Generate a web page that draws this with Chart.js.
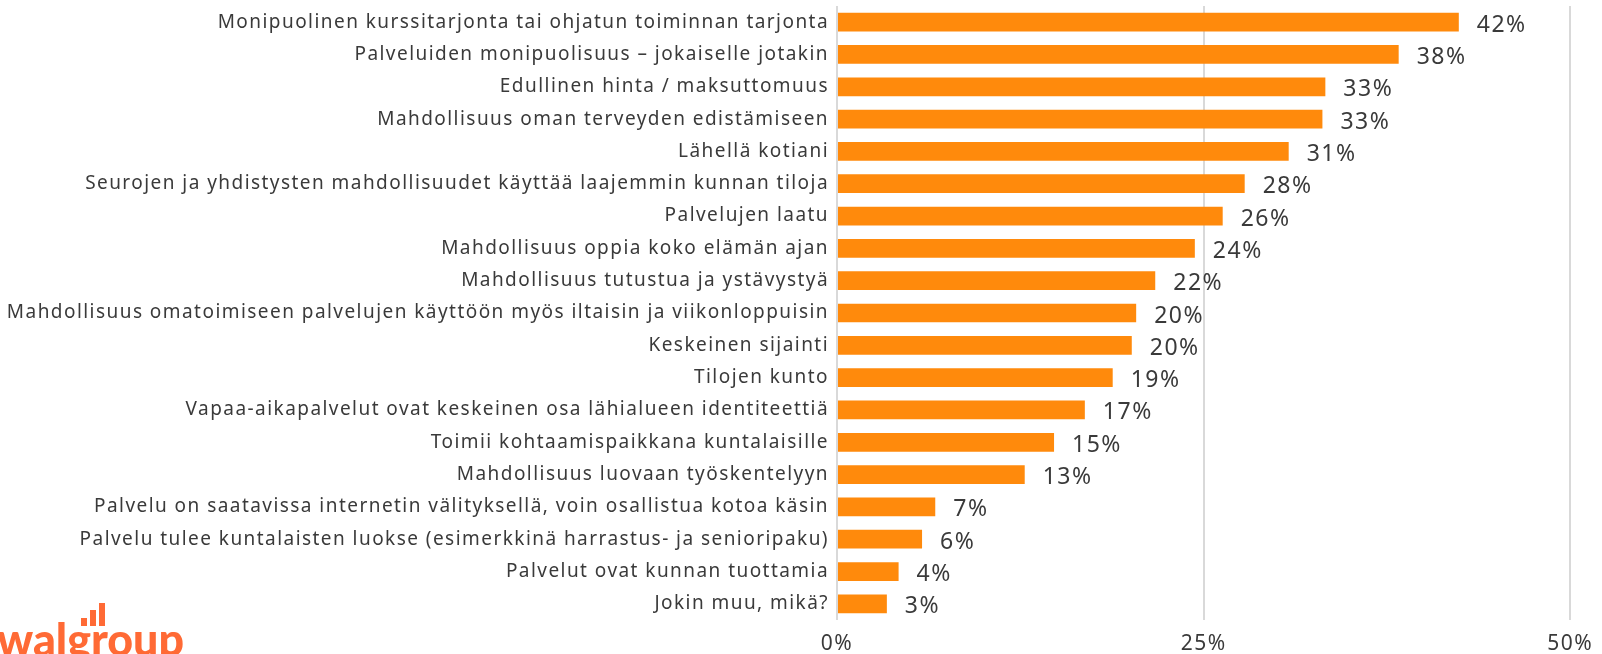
<!DOCTYPE html>
<html>
<head>
<meta charset="utf-8">
<script src="https://cdn.jsdelivr.net/npm/chart.js@4/dist/chart.umd.min.js"></script>
<style>
    html, body { margin: 0; padding: 0; background: #ffffff; }
    #wrap { position: relative; width: 1602px; height: 654px; overflow: hidden; }
    #logo { position: absolute; left: 0; top: 594px; }
</style>
</head>
<body>
<div id="wrap">
    <canvas id="barChart" width="1602" height="654"></canvas>
    <svg id="logo" width="200" height="60">
        <rect x="81" y="24" width="6" height="8" fill="#ff6a35"></rect>
        <rect x="90" y="16" width="6" height="16" fill="#ff6a35"></rect>
        <rect x="99" y="9" width="6" height="23" fill="#ff6a35"></rect>
        <text x="-3" y="62" font-family="Lato" font-weight="900" font-size="46" fill="#ff6a35"
              textLength="187" lengthAdjust="spacingAndGlyphs">walgroup</text>
    </svg>
</div>
<script>
// Données du graphique
const categories = [
    'Monipuolinen kurssitarjonta tai ohjatun toiminnan tarjonta',
    'Palveluiden monipuolisuus – jokaiselle jotakin',
    'Edullinen hinta / maksuttomuus',
    'Mahdollisuus oman terveyden edistämiseen',
    'Lähellä kotiani',
    'Seurojen ja yhdistysten mahdollisuudet käyttää laajemmin kunnan tiloja',
    'Palvelujen laatu',
    'Mahdollisuus oppia koko elämän ajan',
    'Mahdollisuus tutustua ja ystävystyä',
    'Mahdollisuus omatoimiseen palvelujen käyttöön myös iltaisin ja viikonloppuisin',
    'Keskeinen sijainti',
    'Tilojen kunto',
    'Vapaa-aikapalvelut ovat keskeinen osa lähialueen identiteettiä',
    'Toimii kohtaamispaikkana kuntalaisille',
    'Mahdollisuus luovaan työskentelyyn',
    'Palvelu on saatavissa internetin välityksellä, voin osallistua kotoa käsin',
    'Palvelu tulee kuntalaisten luokse (esimerkkinä harrastus- ja senioripaku)',
    'Palvelut ovat kunnan tuottamia',
    'Jokin muu, mikä?'
];
const shares = [42.4, 38.3, 33.3, 33.1, 30.8, 27.8, 26.3, 24.4, 21.7, 20.4, 20.1, 18.8, 16.9, 14.8, 12.8, 6.7, 5.8, 4.2, 3.4];
const xTicks = [0, 25, 50];

const textColor = '#3a3a3a';
const barColor = '#ff8a0c';

// Étiquettes de valeur à droite des barres
const valueLabels = {
    id: 'valueLabels',
    afterDatasetsDraw(chart) {
        const ctx = chart.ctx;
        const meta = chart.getDatasetMeta(0);
        ctx.save();
        ctx.letterSpacing = '1.5px';
        ctx.font = '23px "Noto Sans"';
        ctx.fillStyle = textColor;
        ctx.textAlign = 'left';
        ctx.textBaseline = 'middle';
        meta.data.forEach(function(bar, i) {
            ctx.fillText(Math.round(shares[i]) + '%', bar.x + 18, bar.y + 3);
        });
        ctx.restore();
    }
};

// Espacement des lettres pour les libellés
const spacing = {
    id: 'spacing',
    beforeInit(chart) { chart.ctx.letterSpacing = '1.45px'; },
    beforeDraw(chart) { chart.ctx.letterSpacing = '1.45px'; }
};

const barCtx = document.getElementById('barChart').getContext('2d');
new Chart(barCtx, {
    type: 'bar',
    data: {
        labels: categories,
        datasets: [{
            data: shares,
            backgroundColor: barColor,
            borderWidth: 0,
            barPercentage: 0.58,
            categoryPercentage: 1.0
        }]
    },
    options: {
        indexAxis: 'y',
        responsive: false,
        animation: false,
        layout: { padding: { top: 6, right: 30, left: 0, bottom: 0 } },
        plugins: {
            legend: { display: false },
            tooltip: { enabled: false }
        },
        scales: {
            x: {
                min: 0,
                max: 50,
                afterBuildTicks(axis) { axis.ticks = xTicks.map(v => ({ value: v })); },
                afterFit(axis) { axis.height = 34; },
                grid: { color: '#d9d9d9', lineWidth: 2, drawTicks: false },
                border: { display: false },
                ticks: {
                    padding: 11,
                    color: textColor,
                    font: { family: 'Noto Sans', size: 21 },
                    callback: v => v + '%'
                }
            },
            y: {
                afterFit(axis) {
                    axis.width = 837;
                    axis.paddingTop = 0;
                    axis.paddingBottom = 0;
                },
                grid: { display: false, drawTicks: false },
                border: { display: false },
                ticks: {
                    padding: 8,
                    color: textColor,
                    autoSkip: false,
                    font: { family: 'Noto Sans', size: 19 }
                }
            }
        }
    },
    plugins: [spacing, valueLabels]
});
</script>
</body>
</html>
